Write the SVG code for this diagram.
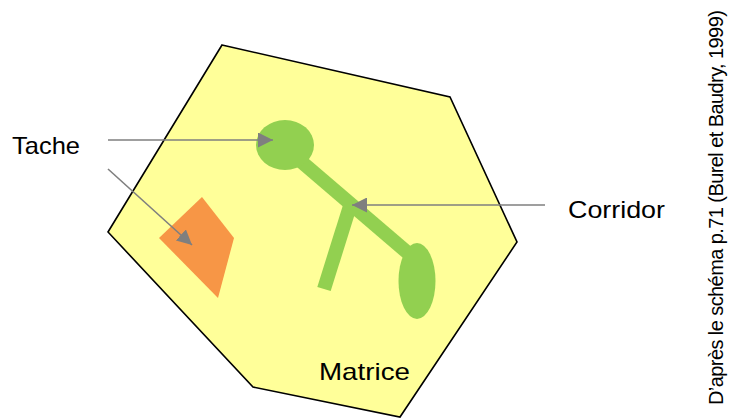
<svg xmlns="http://www.w3.org/2000/svg" width="731" height="418" viewBox="0 0 731 418">
  <style>
    .lbl { font-family: "Liberation Sans", Arial, sans-serif; font-size: 24px; fill: #000; }
    .src { font-family: "Liberation Sans", Arial, sans-serif; font-size: 20px; letter-spacing: -0.58px; fill: #000; }
    .green { fill: #92d050; }
    .bar { stroke: #92d050; stroke-width: 14; fill: none; stroke-linecap: butt; }
    .conn { stroke: #7f7f7f; stroke-width: 1.6; fill: none; marker-end: url(#arrow); }
  </style>
  <defs>
    <marker id="arrow" viewBox="0 0 10 10" refX="10" refY="5" markerWidth="15" markerHeight="15" markerUnits="userSpaceOnUse" orient="auto">
      <path d="M0,0 L10,5 L0,10 Z" fill="#7f7f7f"/>
    </marker>
  </defs>

  <g id="matrice">
    <polygon points="222,45 450,97 517,242 400,417 253,387 108,232" fill="#ffff99" stroke="#000" stroke-width="1.6" stroke-linejoin="miter"/>
    <text class="lbl" x="319" y="380" textLength="91" lengthAdjust="spacingAndGlyphs">Matrice</text>
  </g>

  <g id="tache-orange">
    <polygon points="202,197 234,238 218,298 159,238" fill="#f79646"/>
  </g>

  <g id="corridor-shape">
    <line class="bar" x1="350" y1="206" x2="324" y2="289"/>
    <line class="bar" x1="290" y1="152" x2="415" y2="259"/>
    <ellipse id="tache-verte-1" class="green" cx="285" cy="145" rx="29" ry="25"/>
    <ellipse id="tache-verte-2" class="green" cx="417" cy="281" rx="18.5" ry="38"/>
  </g>

  <g id="label-tache">
    <text class="lbl" x="12" y="154" textLength="68" lengthAdjust="spacingAndGlyphs">Tache</text>
  </g>

  <g id="label-corridor">
    <text class="lbl" x="568" y="218" textLength="97" lengthAdjust="spacingAndGlyphs">Corridor</text>
  </g>

  <g id="source">
    <text class="src" transform="translate(723,405) rotate(-90)" x="0" y="0">D’après le schéma p.71 (Burel et Baudry, 1999)</text>
  </g>

  <g id="connectors">
    <line class="conn" x1="108" y1="140" x2="273" y2="140"/>
    <line class="conn" x1="108" y1="169" x2="192" y2="245"/>
    <line class="conn" x1="545" y1="205" x2="352" y2="205"/>
  </g>
</svg>
